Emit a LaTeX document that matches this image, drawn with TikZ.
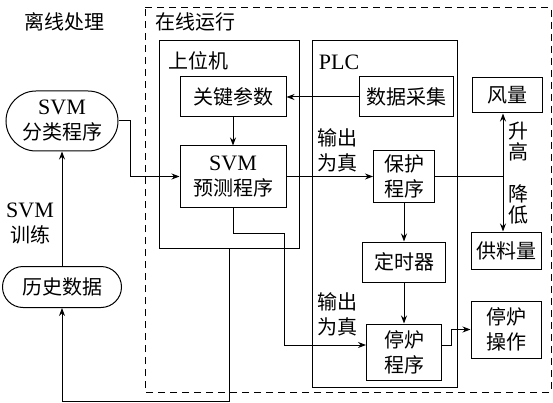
\documentclass[tikz,border=0pt]{standalone}
\usepackage{fontspec}
\setmainfont{Liberation Serif}
\newfontfamily\cjk{Noto Sans CJK SC}
\usetikzlibrary{arrows.meta,shapes.misc}
\newcommand\latn[1]{{\rmfamily\fontsize{22}{25}\selectfont #1}}
\begin{document}
\begin{tikzpicture}[x=1pt,y=-1pt,
  every node/.style={font=\cjk\fontsize{20}{25}\selectfont, align=center, inner sep=0pt},
  bx/.style={draw, line width=1pt},
  pill/.style={draw, line width=1pt, rounded rectangle},
  ln/.style={line width=1pt},
  arr/.style={line width=1pt, -{Stealth[length=8pt,width=6pt]}},
  dbl/.style={line width=1pt, {Stealth[length=8pt,width=6pt]}-{Stealth[length=8pt,width=6pt]}},
  dsh/.style={line width=1pt, dash pattern=on 7pt off 5pt}]
\useasboundingbox (0,0) rectangle (553,403);
% dashed region
\draw[dsh] (145,8) -- (551,8) -- (551,392) -- (145,392) -- cycle;
% outer boxes
\node[bx, minimum width=140, minimum height=207] (sw) at (229,144.5) {};
\node[bx, minimum width=145, minimum height=346] (plc) at (384.5,214) {};
% titles
\node (t1) at (64,22) {离线处理};
\node (t2) at (195,22) {在线运行};
\node (t3) at (198,61) {上位机};
\node (t4) at (339,62) {\latn{PLC}};
% nodes
\node[pill, minimum width=112, minimum height=60] (fenlei) at (62,121) {\latn{SVM}\\分类程序};
\node[pill, minimum width=119, minimum height=41] (lishi) at (62,287) {历史数据};
\node[bx, minimum width=106, minimum height=40] (guanjian) at (233,97) {关键参数};
\node[bx, minimum width=106, minimum height=61] (yuce) at (233,176.5) {\latn{SVM}\\预测程序};
\node[bx, minimum width=94, minimum height=40] (shuju) at (406,97) {数据采集};
\node[bx, minimum width=70, minimum height=35] (feng) at (507,95.5) {风量};
\node[bx, minimum width=61, minimum height=51] (baohu) at (404,176.5) {保护\\程序};
\node[bx, minimum width=83, minimum height=40] (ding) at (404,262) {定时器};
\node[bx, minimum width=75, minimum height=56] (ting) at (404,352) {停炉\\程序};
\node[bx, minimum width=70, minimum height=37] (gong) at (506,250.5) {供料量};
\node[bx, minimum width=70, minimum height=57] (cao) at (506,329.5) {停炉\\操作};
% labels
\node (l1) at (337,150) {输出\\为真};
\node (l2) at (337,314) {输出\\为真};
\node (l3) at (518,142) {升\\[-4pt]高};
\node (l4) at (518,204) {降\\[-4pt]低};
\node (l5) at (30,224) {\latn{SVM}\\训练};
% connectors
\draw[arr] (fenlei.east) -- (130,121) |- (yuce.west);
\draw[arr] (guanjian.south) -- (yuce.north);
\draw[arr] (shuju.west) -- (guanjian.east);
\draw[arr] (yuce.east) -- (baohu.west);
\coordinate (j) at (503,176.5);
\draw[ln] (baohu.east) -- (j);
\draw[dbl] (j |- feng.south) -- (j |- gong.north);
\draw[arr] (baohu.south) -- (ding.north);
\draw[arr] (ding.south) -- (ting.north);
\draw[arr] (yuce.south) -- (233,233) -- (284,233) -- (284,345) -- (ting.west |- 0,345);
\draw[arr] (ting.east |- 0,345) -- (451,345) |- (cao.west);
\draw[arr] (sw.south) -- (229,401) -| (lishi.south);
\draw[arr] (lishi.north) -- (fenlei.south);
\end{tikzpicture}
\end{document}
